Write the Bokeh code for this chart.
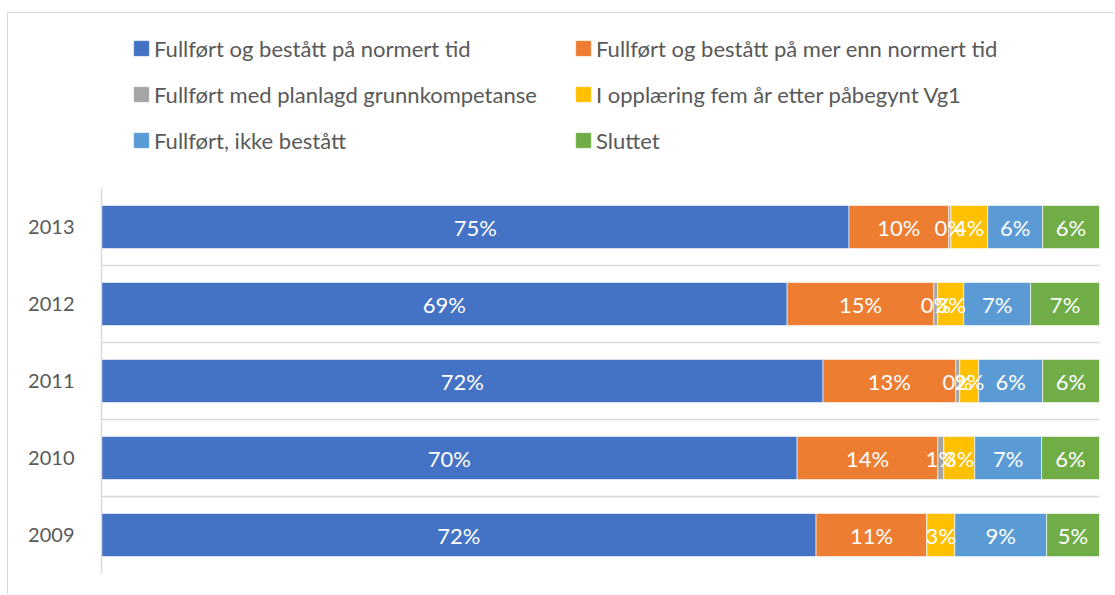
from bokeh.plotting import figure
from bokeh.layouts import column
from bokeh.models import ColumnDataSource, Range1d, FixedTicker, Legend, LegendItem
from bokeh.core.properties import value
from bokeh.embed import file_html
from bokeh.resources import INLINE

# ---- data (percent of cohort) ----
years = ["2009", "2010", "2011", "2012", "2013"]
normert_tid = [71.6, 69.7, 72.3, 68.7, 74.9]
mer_enn_normert = [11.1, 14.1, 13.3, 14.7, 10.0]
grunnkompetanse = [0.0, 0.6, 0.4, 0.4, 0.2]
i_opplaering = [2.8, 3.1, 1.9, 2.6, 3.7]
ikke_bestatt = [9.2, 6.7, 6.4, 6.7, 5.5]
sluttet = [5.3, 5.8, 5.7, 6.9, 5.7]

series_labels = [
    "Fullført og bestått på normert tid",
    "Fullført og bestått på mer enn normert tid",
    "Fullført med planlagd grunnkompetanse",
    "I opplæring fem år etter påbegynt Vg1",
    "Fullført, ikke bestått",
    "Sluttet",
]
colors = ["#4472C4", "#ED7D31", "#A5A5A5", "#FFC000", "#5B9BD5", "#70AD47"]

series = [normert_tid, mer_enn_normert, grunnkompetanse, i_opplaering,
          ikke_bestatt, sluttet]
keys = ["s%d" % i for i in range(len(series))]

ypos = list(range(len(years)))
data = {"y": ypos}
for k, s in zip(keys, series):
    data[k] = s
source = ColumnDataSource(data)

FONT = "Lato"
GREY_TEXT = "#595959"
GRID = "#d9d9d9"

W = 1106

# ================= legend strip =================
pl = figure(width=W, height=173, output_backend="svg", toolbar_location=None,
            x_range=Range1d(0, 1), y_range=Range1d(0, 1),
            x_axis_location=None, y_axis_location=None,
            min_border_left=0, min_border_right=0, min_border_top=0,
            min_border_bottom=0)
pl.outline_line_color = None
pl.xgrid.visible = False
pl.ygrid.visible = False
# legend keys: one swatch renderer per series, kept outside the visible range
key_renderers = [pl.hbar(y=[-5], right=[1], height=0.5, color=c) for c in colors]


def make_legend(idx, loc):
    leg = Legend(items=[LegendItem(label=series_labels[i], renderers=[key_renderers[i]])
                        for i in idx],
                 location=loc, orientation="vertical")
    leg.label_text_font = FONT
    leg.label_text_font_size = "22px"
    leg.label_text_color = GREY_TEXT
    leg.glyph_width = 18
    leg.glyph_height = 18
    leg.label_standoff = 4
    leg.label_height = 28
    leg.spacing = 18
    leg.padding = 0
    leg.margin = 0
    leg.border_line_color = None
    leg.background_fill_alpha = 0
    return leg


pl.add_layout(make_legend([0, 2, 4], (31, 32)))
pl.add_layout(make_legend([1, 3, 5], (473, 32)))

# ================= bar chart =================
p = figure(width=W, height=408, output_backend="svg", toolbar_location=None,
           x_range=Range1d(0, 100), y_range=Range1d(-0.5, len(years) - 0.5),
           min_border_left=93, min_border_top=2,
           min_border_right=W - 1091, min_border_bottom=21)
p.outline_line_color = None

renderers = p.hbar_stack(keys, y="y", height=0.56, color=colors, source=source,
                         line_color="white", line_width=0.6)

# data labels, centred in each segment
lx, ly, lt = [], [], []
for i in range(len(years)):
    left = 0.0
    for s in series:
        v = s[i]
        if v > 0:
            lx.append(left + v / 2.0)
            ly.append(ypos[i])
            lt.append("%d%%" % int(v + 0.5))
        left += v
p.text(x=lx, y=ly, text=lt, text_color="white", text_align="center",
       text_baseline="middle", text_font=value(FONT),
       text_font_size=value("22px"))

p.xaxis.visible = False
p.xgrid.visible = False
p.yaxis.ticker = FixedTicker(ticks=ypos)
p.yaxis.major_label_overrides = {y: yr for y, yr in zip(ypos, years)}
p.yaxis.major_tick_line_color = None
p.yaxis.minor_tick_line_color = None
p.yaxis.axis_line_color = GRID
p.yaxis.axis_line_width = 1.5
p.yaxis.major_label_standoff = 21
p.yaxis.major_label_text_font = FONT
p.yaxis.major_label_text_font_size = "20px"
p.yaxis.major_label_text_color = GREY_TEXT
p.ygrid.ticker = FixedTicker(ticks=[y - 0.5 for y in ypos] + [ypos[-1] + 0.5])
p.ygrid.grid_line_color = GRID
p.ygrid.grid_line_width = 1.5

layout = column(pl, p, spacing=0)
layout.styles = {"margin-left": "7px", "margin-top": "12px",
                 "border-left": "1px solid " + GRID, "border-top": "1px solid " + GRID}

open("out.html", "w").write(file_html(layout, INLINE))
